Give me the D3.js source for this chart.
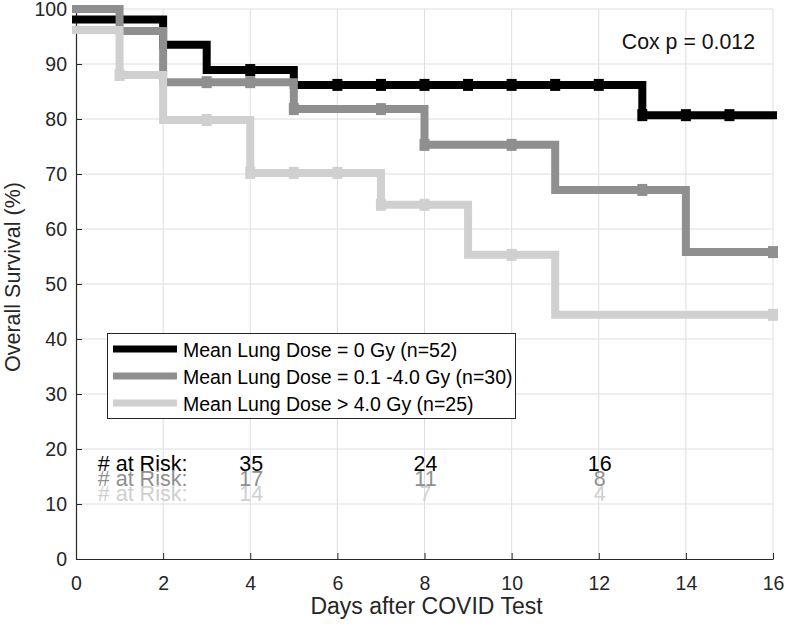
<!DOCTYPE html>
<html><head><meta charset="utf-8">
<script src="https://cdn.jsdelivr.net/npm/d3@7"></script>
<style>body{margin:0;background:#fff}svg{display:block}text{font-family:"Liberation Sans",Arial,Helvetica,sans-serif}</style>
</head><body><svg id="c" width="788" height="628"></svg>
<script>
// ---- data ----
const seriesNames = ["Mean Lung Dose = 0 Gy (n=52)", "Mean Lung Dose = 0.1 -4.0 Gy (n=30)", "Mean Lung Dose > 4.0 Gy (n=25)"];
const seriesColors = ["#000000", "#8f8f8f", "#d0d0d0"];
// step times and survival values (survival holds from time[i] until time[i+1])
const times0 = [0, 2, 3, 5, 13, 16];
const surv0  = [98.1, 93.5, 88.9, 86.2, 80.7, 80.7];
const times1 = [0, 1, 2, 5, 8, 11, 14, 16];
const surv1  = [100, 96.0, 86.7, 81.8, 75.3, 67.1, 55.8, 55.8];
const times2 = [0, 1, 2, 4, 7, 9, 11, 16];
const surv2  = [96.2, 88.0, 79.8, 70.2, 64.4, 55.3, 44.4, 44.4];
// censor marks
const censT0 = [4, 6, 7, 8, 9, 10, 11, 12, 13, 14, 15];
const censS0 = [88.9, 86.2, 86.2, 86.2, 86.2, 86.2, 86.2, 86.2, 80.7, 80.7, 80.7];
const censT1 = [3, 4, 5, 7, 8, 10, 13, 16];
const censS1 = [86.7, 86.7, 81.8, 81.8, 75.3, 75.3, 67.1, 55.8];
const censT2 = [1, 3, 4, 5, 6, 7, 8, 10, 16];
const censS2 = [88.0, 79.8, 70.2, 70.2, 70.2, 64.4, 64.4, 55.3, 44.4];
// numbers at risk
const riskDays = [4, 8, 12];
const risk0 = [35, 24, 16];
const risk1 = [17, 11, 8];
const risk2 = [14, 7, 4];
const xTicks = [0, 2, 4, 6, 8, 10, 12, 14, 16];
const yTicks = [0, 10, 20, 30, 40, 50, 60, 70, 80, 90, 100];
const xLabel = "Days after COVID Test";
const yLabel = "Overall Survival (%)";
const coxText = "Cox p = 0.012";

// ---- chart ----
const svg = d3.select("#c");
const x = d3.scaleLinear().domain([0, 16]).range([76, 773]);
const y = d3.scaleLinear().domain([0, 100]).range([559, 9]);
const axisCol = "#262626";

// grid
const grid = svg.append("g");
grid.selectAll("line.gx").data(xTicks.slice(1)).join("line")
  .attr("x1", d => x(d)).attr("x2", d => x(d)).attr("y1", y(0)).attr("y2", y(100))
  .attr("stroke", "#dedede").attr("stroke-width", 1);
grid.selectAll("line.gy").data(yTicks.slice(1)).join("line")
  .attr("x1", x(0)).attr("x2", x(16)).attr("y1", d => y(d)).attr("y2", d => y(d))
  .attr("stroke", "#dedede").attr("stroke-width", 1);

// axes
const xAxis = svg.append("g").attr("transform", `translate(0,${y(0)})`)
  .call(d3.axisBottom(x).tickValues(xTicks).tickSizeInner(-6).tickSizeOuter(0).tickPadding(17));
const yAxis = svg.append("g").attr("transform", `translate(${x(0)},0)`)
  .call(d3.axisLeft(y).tickValues(yTicks).tickSizeInner(-6).tickSizeOuter(0).tickPadding(9));
[xAxis, yAxis].forEach(a => {
  a.select(".domain").attr("stroke", axisCol).attr("stroke-width", 1.2);
  a.selectAll(".tick line").attr("stroke", axisCol);
  a.selectAll(".tick text").attr("fill", axisCol).style("font-size", "19.5px")
    .style("font-family", '"Liberation Sans",Arial,sans-serif');
});
xAxis.selectAll(".tick text").attr("dy", "0.71em");
yAxis.selectAll(".tick text").attr("dy", "0.35em");

// axis labels
svg.append("text").attr("x", (x(0) + x(16)) / 2 + 2).attr("y", 614).attr("text-anchor", "middle")
  .attr("fill", axisCol).style("font-size", "23px").text(xLabel);
svg.append("text").attr("transform", `translate(20,${277}) rotate(-90)`).attr("text-anchor", "middle")
  .attr("fill", axisCol).style("font-size", "21.5px").text(yLabel);

// curves
const stepLine = d3.line().x(d => x(d[0])).y(d => y(d[1])).curve(d3.curveStepAfter);
const allTimes = [times0, times1, times2];
const allSurv = [surv0, surv1, surv2];
const allCT = [censT0, censT1, censT2];
const allCS = [censS0, censS1, censS2];
for (let i = 0; i < 3; i++) {
  const pts = allTimes[i].map((t, j) => [t, allSurv[i][j]]);
  const g = svg.append("g");
  g.append("path").attr("d", stepLine(pts)).attr("fill", "none")
    .attr("stroke", seriesColors[i]).attr("stroke-width", 8)
    .attr("stroke-linejoin", "miter").attr("stroke-linecap", "square");
  const cp = allCT[i].map((t, j) => [t, allCS[i][j]]);
  g.selectAll("rect").data(cp).join("rect")
    .attr("x", d => x(d[0]) - 5).attr("y", d => y(d[1]) - 6)
    .attr("width", 10).attr("height", 12).attr("fill", seriesColors[i]);
}

// Cox text
svg.append("text").attr("x", x(12.53)).attr("y", 49).attr("fill", "#111")
  .style("font-size", "21.3px").text(coxText);

// legend
const lg = svg.append("g");
lg.append("rect").attr("x", 107.5).attr("y", 333.5).attr("width", 408).attr("height", 85)
  .attr("fill", "#fff").attr("stroke", axisCol).attr("stroke-width", 1);
const rowsY = [349, 376, 403];
seriesNames.forEach((n, i) => {
  lg.append("line").attr("x1", 113).attr("x2", 177).attr("y1", rowsY[i]).attr("y2", rowsY[i])
    .attr("stroke", seriesColors[i]).attr("stroke-width", 7);
  lg.append("text").attr("x", 183).attr("y", rowsY[i] + 8).attr("fill", "#000")
    .style("font-size", "19.5px").text(n);
});

// at-risk table
const risks = [risk0, risk1, risk2];
const riskY = [471, 486, 501];
risks.forEach((r, i) => {
  svg.append("text").attr("x", x(0.5)).attr("y", riskY[i]).attr("fill", seriesColors[i])
    .style("font-size", "21.5px").text("# at Risk:");
  svg.selectAll(null).data(riskDays).join("text")
    .attr("x", d => x(d) + 1).attr("y", riskY[i]).attr("text-anchor", "middle")
    .attr("fill", seriesColors[i]).style("font-size", "21.5px")
    .text((d, j) => r[j]);
});
</script></body></html>
